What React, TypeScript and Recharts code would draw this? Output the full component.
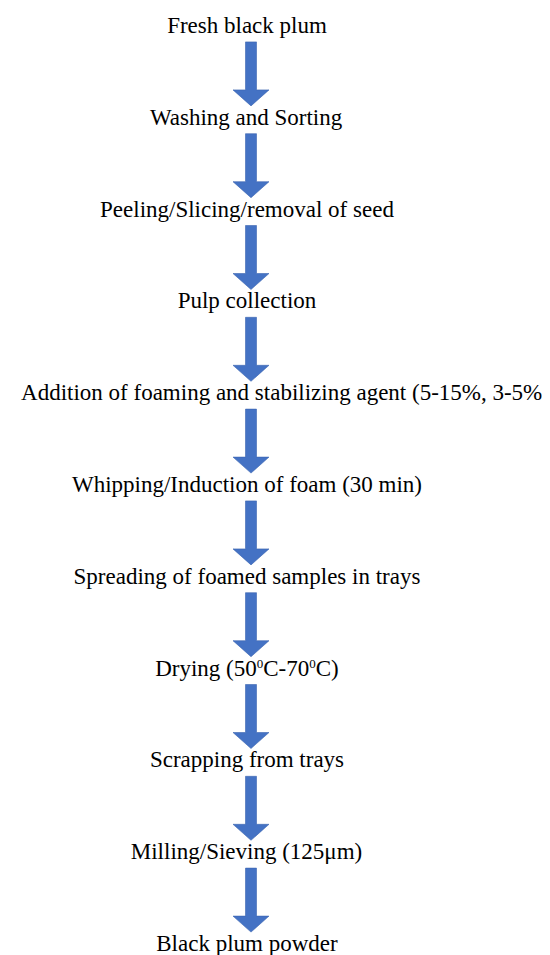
import React from "react";
import { ScatterChart, Scatter, XAxis, YAxis } from "recharts";

// Process steps, top to bottom
const STEPS: string[] = [
  "Fresh black plum",
  "Washing and Sorting",
  "Peeling/Slicing/removal of seed",
  "Pulp collection",
  "Addition of foaming and stabilizing agent (5-15%, 3-5%)",
  "Whipping/Induction of foam (30 min)",
  "Spreading of foamed samples in trays",
  "Drying (50⁰C-70⁰C)",
  "Scrapping from trays",
  "Milling/Sieving (125μm)",
  "Black plum powder",
];

const PAGE_W = 550;
const PAGE_H = 955;
const BODY = 8;
const W = PAGE_W - BODY;
const H = PAGE_H - BODY;
const TEXT_X = 247;
const ARROW_X = 251;
const PAD = 8;
const FONT_SIZE = 23;
const SUP_SIZE = 13;
const FONT = "Liberation Serif";
const BLUE = "#4472C4";

const stepData = STEPS.map((label, i) => ({ x: TEXT_X, y: i, label }));
const arrowData = STEPS.slice(1).map((_, i) => ({ x: ARROW_X, y: i + 0.5 }));

// Times-metric advance widths (per 1000 em) used to centre labels
const ADV: Record<string, number> = {
  " ": 250, "(": 333, ")": 333, "-": 333, "/": 278, ",": 250, "%": 833, "μ": 576,
  A: 722, B: 667, C: 667, D: 722, F: 556, I: 333, M: 889, P: 556, S: 556, W: 944,
  a: 444, b: 500, c: 444, d: 500, e: 444, f: 333, g: 500, h: 500, i: 278, k: 500,
  l: 278, m: 778, n: 500, o: 500, p: 500, r: 333, s: 389, t: 278, u: 500, v: 500,
  w: 722, y: 500, z: 444,
};

function textWidth(s: string): number {
  let w = 0;
  for (const ch of s) {
    if (ch === "⁰") w += 500 * SUP_SIZE;
    else w += (ADV[ch] ?? 500) * FONT_SIZE;
  }
  return w / 1000;
}

function renderLabel(label: string) {
  if (label.indexOf("⁰") < 0) return label;
  const parts = label.split("⁰");
  const out: React.ReactNode[] = [];
  parts.forEach((p, i) => {
    if (i > 0) {
      out.push(
        <tspan key={`s${i}`} style={{ fontFamily: FONT, fontSize: SUP_SIZE }} dy={-8}>
          0
        </tspan>
      );
      out.push(
        <tspan key={`p${i}`} style={{ fontFamily: FONT, fontSize: FONT_SIZE }} dy={8}>
          {p}
        </tspan>
      );
    } else {
      out.push(
        <tspan key={`p${i}`} style={{ fontFamily: FONT, fontSize: FONT_SIZE }}>
          {p}
        </tspan>
      );
    }
  });
  return out;
}

const StepShape = (props: any) => {
  const { cx, cy, payload } = props;
  if (cx == null || cy == null) return null;
  const w = textWidth(payload.label);
  // keep the label inside the page (x data = page x, chart starts at BODY)
  const center = Math.min(Math.max(cx, BODY + PAD + w / 2), PAGE_W - PAD - w / 2);
  return (
    <g>
      <text x={center - w / 2} y={cy + 7} style={{ fontFamily: FONT, fontSize: FONT_SIZE }}>
        {renderLabel(payload.label)}
      </text>
    </g>
  );
};

const ArrowShape = (props: any) => {
  const { cx, cy } = props;
  if (cx == null || cy == null) return null;
  const top = cy - 30;
  const headStart = cy + 18;
  const tip = cy + 34;
  const sw = 5.5;
  const hw = 18;
  const d = `M${cx - sw},${top} L${cx + sw},${top} L${cx + sw},${headStart} L${cx + hw},${headStart} L${cx},${tip} L${cx - hw},${headStart} L${cx - sw},${headStart} Z`;
  return <path d={d} fill={BLUE} stroke="#3A64B0" strokeWidth={0.6} />;
};

// page y of step 0 = 26px, step 10 = 944px  => 91.8 px per step
const PX_PER_STEP = 91.8;
const Y_MIN = (BODY - 26) / PX_PER_STEP;
const Y_MAX = (PAGE_H - 26) / PX_PER_STEP;

export default function App() {
  return (
    <div style={{ fontFamily: FONT }}>
      <ScatterChart
        width={W}
        height={H}
        margin={{ top: 0, right: 0, bottom: 0, left: 0 }}
        style={{ fontFamily: FONT }}
      >
        <XAxis type="number" dataKey="x" domain={[BODY, PAGE_W]} hide />
        <YAxis type="number" dataKey="y" domain={[Y_MIN, Y_MAX]} reversed hide />
        <Scatter data={stepData} shape={StepShape} isAnimationActive={false} />
        <Scatter data={arrowData} shape={ArrowShape} isAnimationActive={false} />
      </ScatterChart>
    </div>
  );
}
